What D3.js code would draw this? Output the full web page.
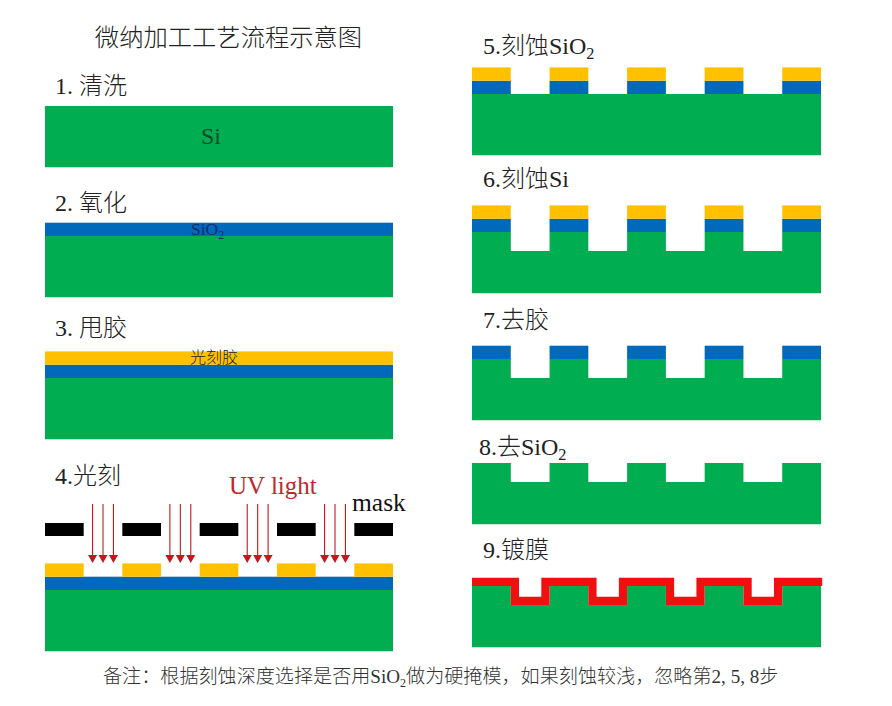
<!DOCTYPE html>
<html>
<head>
<meta charset="utf-8">
<script src="https://cdn.jsdelivr.net/npm/d3@7"></script>
<style>
  html, body { margin: 0; padding: 0; background: #fff; }
  svg { display: block; }
  text { font-family: "Liberation Serif", "Noto Sans CJK SC", serif; font-weight: 300; }
</style>
</head>
<body>
<svg id="chart" width="892" height="706"></svg>
<script>
// step data
const stepLabels = ["1. 清洗", "2. 氧化", "3. 甩胶", "4.光刻", "5.刻蚀SiO|2", "6.刻蚀Si", "7.去胶", "8.去SiO|2", "9.镀膜"];
const stepStacks = [
  ["Si"],
  ["SiO2", "Si"],
  ["resist", "SiO2", "Si"],
  ["resist", "SiO2", "Si"],
  ["resist", "SiO2", "Si"],
  ["resist", "SiO2", "Si"],
  ["SiO2", "Si"],
  ["Si"],
  ["Si"],
];
// which layers got etched into the 5 pillars, for each step
const patternedLayers = [[], [], [], ["resist"], ["resist", "SiO2"], ["resist", "SiO2", "Si"], ["SiO2", "Si"], ["Si"], ["Si"]];
const coatedSteps = [8];

// wafer is 9 units across: pillars and trenches of one unit each
const waferUnits = 9;
const pillarStarts = [0, 2, 4, 6, 8];
const trenchStarts = [1, 3, 5, 7];
const arrowOffsets = [-0.27, 0, 0.27];

// layer thickness, same units as the depth scale
const thickness = { resist: 1, SiO2: 1, Si: 4.6 };
const trenchDepth = 1.42;
const filmThickness = 0.62;

const colors = { resist: "#FFC000", SiO2: "#0069BC", Si: "#00AD50", film: "#F30F0F", mask: "#000", arrow: "#C5161D" };

// layout
const svg = d3.select("#chart");
const xLeft = d3.scaleLinear([0, waferUnits], [45, 393]);
const xRight = d3.scaleLinear([0, waferUnits], [472, 821]);
const surfaceY = [106, 236, 378, 590, 94, 232, 359, 463, 586];
const labelPos = [[55, 94], [55, 211], [55, 336], [55, 484], [483, 54], [483, 187], [483, 328], [479, 455], [483, 558]];
const stepX = i => (i < 4 ? xLeft : xRight);
const depthScale = i => d3.scaleLinear([0, 1], [surfaceY[i], surfaceY[i] + 13.3]);

// writes "text|sub" as text with a subscript
function richText(g, str, x, y, size, fill, anchor) {
  const [main, sub] = str.split("|");
  const t = g.append("text").attr("x", x).attr("y", y)
    .attr("font-size", size).attr("fill", fill).attr("text-anchor", anchor || "start");
  t.append("tspan").text(main);
  if (sub) t.append("tspan").attr("dy", size * 0.22).attr("font-size", size * 0.68).text(sub);
  return t;
}

function siProfile(etched) {
  const pts = [[0, thickness.Si], [0, 0]];
  if (etched) {
    trenchStarts.forEach(s => {
      pts.push([s, 0], [s, trenchDepth], [s + 1, trenchDepth], [s + 1, 0]);
    });
  }
  pts.push([waferUnits, 0], [waferUnits, thickness.Si]);
  return pts;
}

stepStacks.forEach((stack, i) => {
  const g = svg.append("g").attr("class", "step");
  const x = stepX(i);
  const y = depthScale(i);

  // oxide and resist sit above the Si surface, stacked upwards
  let top = 0;
  [...stack].reverse().forEach(layer => {
    if (layer === "Si") {
      const line = d3.line().x(d => x(d[0])).y(d => y(d[1]));
      g.append("path")
        .attr("d", line(siProfile(patternedLayers[i].includes("Si"))) + "Z")
        .attr("fill", colors.Si);
      return;
    }
    top -= thickness[layer];
    const spans = patternedLayers[i].includes(layer) ? pillarStarts : [0];
    const w = patternedLayers[i].includes(layer) ? 1 : waferUnits;
    g.selectAll(null).data(spans).join("rect")
      .attr("x", d => x(d))
      .attr("width", d => x(d + w) - x(d))
      .attr("y", y(top))
      .attr("height", y(top + thickness[layer]) - y(top))
      .attr("fill", colors[layer]);
  });

  if (coatedSteps.includes(i)) {
    // conformal film: runs along the etched surface, inset into each trench
    const half = filmThickness / 2;
    const inset = half * 13.3 / (x(1) - x(0));
    const pts = [[0, -half]];
    trenchStarts.forEach(s => {
      pts.push([s + inset, -half], [s + inset, trenchDepth - half], [s + 1 - inset, trenchDepth - half], [s + 1 - inset, -half]);
    });
    pts.push([waferUnits + 0.03, -half]);
    g.append("path")
      .attr("d", d3.line().x(d => x(d[0])).y(d => y(d[1]))(pts))
      .attr("fill", "none")
      .attr("stroke", colors.film)
      .attr("stroke-width", filmThickness * 13.3)
      .attr("stroke-linejoin", "miter");
  }

  richText(g, stepLabels[i], labelPos[i][0], labelPos[i][1], 24, "#222");
});

// mask and UV arrows of step 4
const litho = svg.append("g").attr("class", "litho");
litho.selectAll("rect").data(pillarStarts).join("rect")
  .attr("x", d => xLeft(d))
  .attr("width", d => xLeft(d + 1) - xLeft(d))
  .attr("y", 523).attr("height", 13)
  .attr("fill", colors.mask);

const arrowX = trenchStarts.flatMap(s => arrowOffsets.map(o => s + 0.5 + o));
litho.selectAll("line").data(arrowX).join("line")
  .attr("x1", d => xLeft(d)).attr("x2", d => xLeft(d))
  .attr("y1", 504).attr("y2", 556)
  .attr("stroke", colors.arrow).attr("stroke-width", 1.1);
litho.selectAll("path").data(arrowX).join("path")
  .attr("d", d => `M${xLeft(d) - 4.5},555 L${xLeft(d) + 4.5},555 L${xLeft(d)},563 Z`)
  .attr("fill", colors.arrow);

// annotations
const notes = svg.append("g");
richText(notes, "微纳加工工艺流程示意图", 228.5, 46, 24.3, "#222", "middle");
richText(notes, "Si", 211, 144, 24, "#0B4A26", "middle");
richText(notes, "SiO|2", 191, 235, 17.5, "#0E2C6B");
richText(notes, "光刻胶", 214, 363, 16, "#222", "middle");
richText(notes, "UV light", 229, 494, 25, "#C0272D");
richText(notes, "mask", 352, 511, 25.5, "#111");

const foot = notes.append("text").attr("x", 103).attr("y", 683).attr("font-size", 19.1).attr("fill", "#333");
foot.append("tspan").text("备注：根据刻蚀深度选择是否用SiO");
foot.append("tspan").attr("dy", 4).attr("font-size", 12).text("2");
foot.append("tspan").attr("dy", -4).text("做为硬掩模，如果刻蚀较浅，忽略第2, 5, 8步");
</script>
</body>
</html>
